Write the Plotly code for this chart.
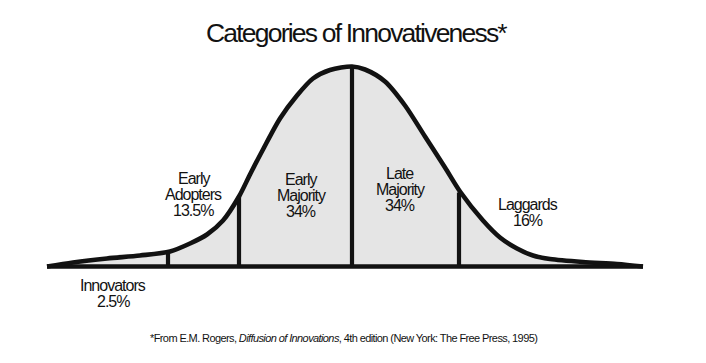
import plotly.graph_objects as go

# ---------------- data ----------------
# Adoption-time axis (arbitrary units, 0 = earliest adopters) and curve height
curve_x = [0, 26, 60, 93, 123, 143, 160, 176, 192, 203, 216, 233, 250, 266, 283, 305,
           318, 338, 358, 378, 398, 413, 436, 453, 470, 486, 503, 536, 570, 596]
curve_h = [0, 4, 8, 11, 15, 23, 32, 46, 70, 92, 117, 148, 171, 188, 196.5, 200,
           197, 185, 161, 130, 99, 75, 46, 29, 18, 11, 7.5, 4.5, 2.5, 0]

# Category boundaries (same axis) and curve height there
divider_x = [121, 192, 305, 412]
divider_h = [15, 70, 200, 74]

categories = ["Innovators", "Early Adopters", "Early Majority", "Late Majority", "Laggards"]
label_lines = [["Innovators"], ["Early", "Adopters"], ["Early", "Majority"],
               ["Late", "Majority"], ["Laggards"]]
shares = ["2.5%", "13.5%", "34%", "34%", "16%"]

title_text = "Categories of Innovativeness*"
footnote = ("*From E.M. Rogers, <i>Diffusion of Innovations</i>, 4th edition "
            "(New York: The Free Press, 1995)")

# ---------------- layout / style ----------------
W, H = 706, 363
INK = "#121212"
FILL = "#e5e5e5"
FONT = "Liberation Sans Narrow, Arial Narrow, Liberation Sans, Arial, sans-serif"

# label anchor in pixels: (centre x, cap-centre y of first line), line pitch
label_pos = [(113, 285), (193.5, 178), (301, 179), (400, 173), (527.5, 204)]
PITCH = 16.2
LABEL_SIZE = 16

fig = go.Figure()

# grey area under the curve
fig.add_trace(go.Scatter(x=curve_x, y=curve_h, mode="lines", fill="tozeroy",
                         fillcolor=FILL, line=dict(width=0, shape="spline", smoothing=0.8),
                         hoverinfo="skip", showlegend=False))
# dividers
for dx, dh in zip(divider_x, divider_h):
    fig.add_trace(go.Scatter(x=[dx, dx], y=[0, dh], mode="lines",
                             line=dict(color=INK, width=4.2), hoverinfo="skip",
                             showlegend=False))
# baseline
fig.add_trace(go.Scatter(x=[curve_x[0], curve_x[-1]], y=[0, 0], mode="lines",
                         line=dict(color=INK, width=4.5), hoverinfo="skip",
                         showlegend=False))
# curve
fig.add_trace(go.Scatter(x=curve_x, y=curve_h, mode="lines",
                         line=dict(color=INK, width=4.6, shape="spline", smoothing=0.8),
                         hoverinfo="skip", showlegend=False))

def ann(text, px, py, size, spacing):
    fig.add_annotation(text=f'<span style="letter-spacing:{spacing}px">{text}</span>',
                       x=px / W, y=1 - py / H, xref="paper", yref="paper",
                       xanchor="center", yanchor="middle", showarrow=False,
                       font=dict(family=FONT, size=size, color=INK))

for lines, share, (lx, ly) in zip(label_lines, shares, label_pos):
    for i, t in enumerate(lines + [share]):
        ann(t, lx, ly + i * PITCH, LABEL_SIZE, -1.0)

ann(title_text, 356.5, 33, 26.5, -1.8)
ann(footnote, 343.5, 337.5, 11, -0.6)

fig.update_layout(
    width=W, height=H, margin=dict(l=0, r=0, t=0, b=0),
    paper_bgcolor="white", plot_bgcolor="white",
    xaxis=dict(range=[-47, W - 47], visible=False, fixedrange=True),
    yaxis=dict(range=[-(H - 266.5), 266.5], visible=False, fixedrange=True),
    showlegend=False,
)

fig.write_html("out.html")
